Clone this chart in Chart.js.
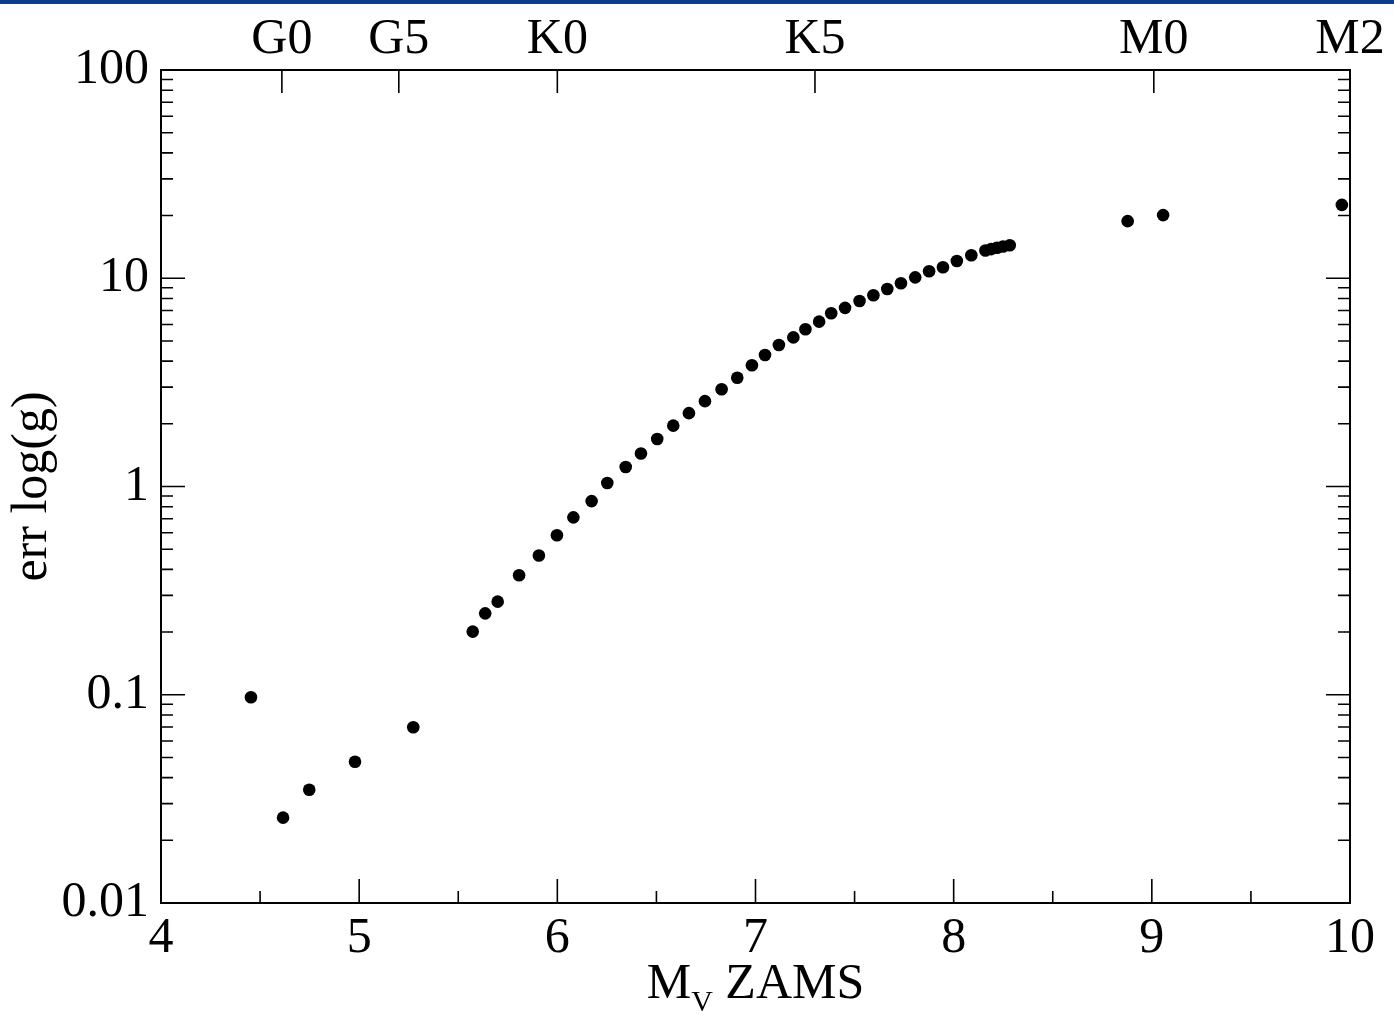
<!DOCTYPE html>
<html>
<head>
<meta charset="utf-8">
<script src="https://cdn.jsdelivr.net/npm/chart.js@4.4.1/dist/chart.umd.min.js"></script>
<style>
  html, body { margin: 0; padding: 0; background: #fff; }
  canvas { display: block; }
</style>
</head>
<body>
<canvas id="myChart" width="1394" height="1015"></canvas>
<script>
// absolute magnitude on the ZAMS
const mvValues = [4.454, 4.616, 4.748, 4.979, 5.273, 5.573, 5.636, 5.699, 5.807, 5.907,
  5.998, 6.081, 6.173, 6.252, 6.345, 6.422, 6.504, 6.585, 6.664, 6.745,
  6.829, 6.908, 6.982, 7.048, 7.118, 7.191, 7.252, 7.321, 7.382, 7.452,
  7.525, 7.595, 7.665, 7.734, 7.806, 7.876, 7.946, 8.016, 8.089, 8.160,
  8.189, 8.219, 8.249, 8.283, 8.878, 9.057, 9.959];
// error on log(g)
const errLogg = [0.0972, 0.0257, 0.0350, 0.0477, 0.0698, 0.201, 0.246, 0.280, 0.375, 0.466,
  0.583, 0.711, 0.851, 1.04, 1.24, 1.44, 1.69, 1.96, 2.25, 2.57,
  2.93, 3.33, 3.82, 4.28, 4.78, 5.20, 5.69, 6.19, 6.79, 7.21,
  7.78, 8.28, 8.88, 9.46, 10.1, 10.8, 11.3, 12.1, 12.9, 13.6,
  13.8, 14.0, 14.2, 14.4, 18.8, 20.1, 22.5];

const xTicks = [4, 5, 6, 7, 8, 9, 10];
const xMinorTicks = [4.5, 5.5, 6.5, 7.5, 8.5, 9.5];
const yTicks = [0.01, 0.1, 1, 10, 100];
const yTickLabels = ['0.01', '0.1', '1', '10', '100'];
const yMinorTicks = [0.02, 0.03, 0.04, 0.05, 0.06, 0.07, 0.08, 0.09,
  0.2, 0.3, 0.4, 0.5, 0.6, 0.7, 0.8, 0.9,
  2, 3, 4, 5, 6, 7, 8, 9,
  20, 30, 40, 50, 60, 70, 80, 90];
const spectralTypes = ['G0', 'G5', 'K0', 'K5', 'M0', 'M2'];
const spectralMv = [4.61, 5.20, 6.0, 7.30, 9.01, 10];

const serif = '"Liberation Serif", "DejaVu Serif", serif';

// xmgrace style frame with inward ticks
const frameTicks = {
  id: 'frameTicks',
  beforeDraw(chart) {
    const ctx = chart.ctx;
    ctx.save();
    ctx.fillStyle = '#0b3d8c';
    ctx.fillRect(0, 0, chart.width, 4);
    ctx.restore();
  },
  afterDraw(chart) {
    const ctx = chart.ctx;
    const a = chart.chartArea;
    const x = chart.scales.x;
    const y = chart.scales.y;
    ctx.save();
    ctx.strokeStyle = '#000';
    ctx.lineWidth = 1.6;
    ctx.beginPath();
    xTicks.forEach(v => {
      const px = x.getPixelForValue(v);
      ctx.moveTo(px, a.bottom); ctx.lineTo(px, a.bottom - 24);
    });
    xMinorTicks.forEach(v => {
      const px = x.getPixelForValue(v);
      ctx.moveTo(px, a.bottom); ctx.lineTo(px, a.bottom - 12);
    });
    spectralMv.forEach(v => {
      const px = x.getPixelForValue(v);
      ctx.moveTo(px, a.top); ctx.lineTo(px, a.top + 23);
    });
    yTicks.forEach(v => {
      const py = y.getPixelForValue(v);
      ctx.moveTo(a.left, py); ctx.lineTo(a.left + 24, py);
      ctx.moveTo(a.right, py); ctx.lineTo(a.right - 24, py);
    });
    yMinorTicks.forEach(v => {
      const py = y.getPixelForValue(v);
      ctx.moveTo(a.left, py); ctx.lineTo(a.left + 12, py);
      ctx.moveTo(a.right, py); ctx.lineTo(a.right - 12, py);
    });
    ctx.stroke();
    ctx.lineWidth = 2;
    ctx.strokeRect(a.left, a.top, a.right - a.left, a.bottom - a.top);

    // x axis title: M_V ZAMS
    const big = '50px ' + serif;
    const small = '30px ' + serif;
    ctx.fillStyle = '#000';
    ctx.textBaseline = 'alphabetic';
    ctx.font = big;
    const wM = ctx.measureText('M').width;
    const wRest = ctx.measureText(' ZAMS').width;
    ctx.font = small;
    const wV = ctx.measureText('V').width;
    let tx = (a.left + a.right) / 2 - (wM + wV + wRest) / 2;
    const base = 998;
    ctx.font = big;
    ctx.fillText('M', tx, base);
    tx += wM;
    ctx.font = small;
    ctx.fillText('V', tx, base + 13);
    tx += wV;
    ctx.font = big;
    ctx.fillText(' ZAMS', tx, base);
    ctx.restore();
  }
};

const ctx = document.getElementById('myChart').getContext('2d');
const myChart = new Chart(ctx, {
  type: 'scatter',
  data: {
    datasets: [{
      label: 'err log(g)',
      data: mvValues.map((v, i) => ({ x: v, y: errLogg[i] })),
      backgroundColor: '#000',
      borderColor: '#000',
      borderWidth: 0,
      pointRadius: 6.3,
      pointHoverRadius: 6.3
    }]
  },
  options: {
    responsive: false,
    animation: false,
    layout: { padding: { left: 0, right: 44, top: 0, bottom: 0 } },
    plugins: {
      legend: { display: false },
      tooltip: { enabled: false }
    },
    scales: {
      x: {
        type: 'linear',
        position: 'bottom',
        min: 4,
        max: 10,
        afterBuildTicks: s => { s.ticks = xTicks.map(v => ({ value: v })); },
        afterFit: s => { s.height = 112; },
        grid: { display: false, drawTicks: false },
        border: { display: false },
        ticks: {
          color: '#000',
          padding: 6,
          autoSkip: false,
          maxRotation: 0,
          font: { family: serif, size: 50 }
        }
      },
      xTop: {
        type: 'linear',
        position: 'top',
        min: 4,
        max: 10,
        afterBuildTicks: s => { s.ticks = spectralMv.map(v => ({ value: v })); },
        afterFit: s => { s.height = 70; },
        grid: { display: false, drawTicks: false },
        border: { display: false },
        ticks: {
          color: '#000',
          padding: 0,
          autoSkip: false,
          maxRotation: 0,
          font: { family: serif, size: 50 },
          callback: (v, i) => spectralTypes[i]
        }
      },
      y: {
        type: 'logarithmic',
        position: 'left',
        min: 0.01,
        max: 100,
        afterBuildTicks: s => { s.ticks = yTicks.map(v => ({ value: v })); },
        afterFit: s => { s.width = 161; },
        grid: { display: false, drawTicks: false },
        border: { display: false },
        ticks: {
          color: '#000',
          padding: 12,
          autoSkip: false,
          font: { family: serif, size: 50 },
          callback: (v, i) => yTickLabels[i]
        },
        title: {
          display: true,
          text: 'err log(g)',
          color: '#000',
          font: { family: serif, size: 50 },
          padding: { top: 3, bottom: 0 }
        }
      }
    }
  },
  plugins: [frameTicks]
});
</script>
</body>
</html>
